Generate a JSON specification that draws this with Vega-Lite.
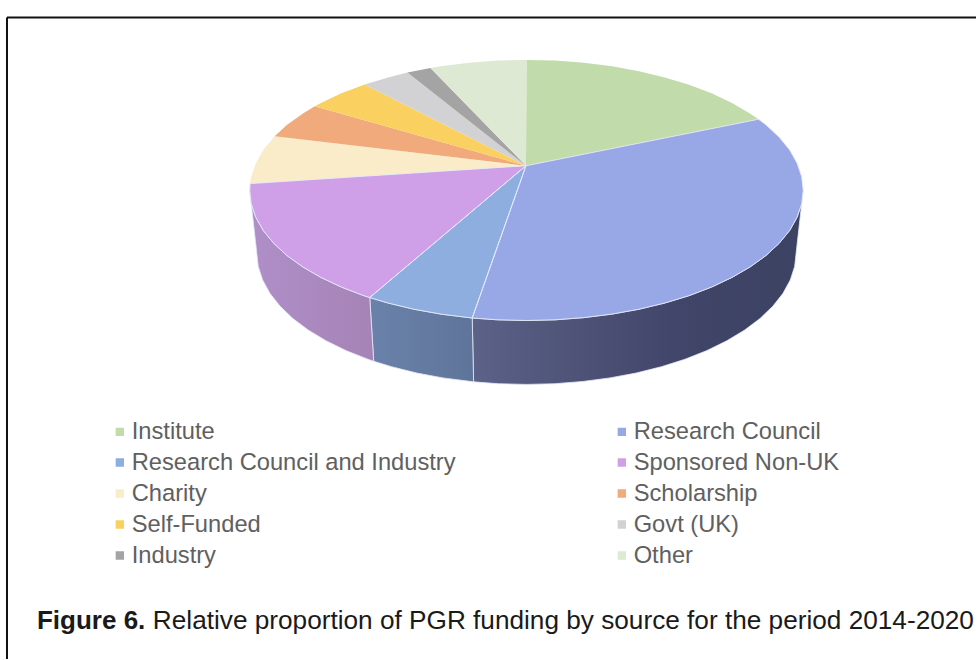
{
"$schema":"https://vega.github.io/schema/vega-lite/v6.json",
"width":977,"height":660,
"autosize":{"type":"fit","contains":"padding"},
"padding":0,
"background":"white",
"config":{"view":{"stroke":null}},
"datasets":{
"faces":[
{"source":"Institute","i":0,"x":-0.5,"y":24.5},{"source":"Institute","i":1,"x":0,"y":130.5},{"source":"Institute","i":2,"x":28.9,"y":129.8},{"source":"Institute","i":3,"x":57.6,"y":127.6},{"source":"Institute","i":4,"x":85.6,"y":124.1},{"source":"Institute","i":5,"x":112.7,"y":119.2},{"source":"Institute","i":6,"x":138.5,"y":113},{"source":"Institute","i":7,"x":162.8,"y":105.6},{"source":"Institute","i":8,"x":185.3,"y":97},{"source":"Institute","i":9,"x":205.8,"y":87.3},{"source":"Institute","i":10,"x":224.1,"y":76.7},{"source":"Institute","i":11,"x":232.3,"y":71.1},{"source":"Institute","i":12,"x":-0.5,"y":24.5},
{"source":"Research Council","i":0,"x":-0.5,"y":24.5},{"source":"Research Council","i":1,"x":232.3,"y":71.1},{"source":"Research Council","i":2,"x":239.9,"y":65.3},{"source":"Research Council","i":3,"x":253,"y":53.1},{"source":"Research Council","i":4,"x":263.5,"y":40.3},{"source":"Research Council","i":5,"x":270.9,"y":27.1},{"source":"Research Council","i":6,"x":275.5,"y":13.6},{"source":"Research Council","i":7,"x":277,"y":0},{"source":"Research Council","i":8,"x":275.5,"y":-13.6},{"source":"Research Council","i":9,"x":270.9,"y":-27.1},{"source":"Research Council","i":10,"x":263.5,"y":-40.3},{"source":"Research Council","i":11,"x":253,"y":-53.1},{"source":"Research Council","i":12,"x":239.9,"y":-65.3},{"source":"Research Council","i":13,"x":224.1,"y":-76.7},{"source":"Research Council","i":14,"x":205.8,"y":-87.3},{"source":"Research Council","i":15,"x":185.3,"y":-97},{"source":"Research Council","i":16,"x":162.8,"y":-105.6},{"source":"Research Council","i":17,"x":138.5,"y":-113},{"source":"Research Council","i":18,"x":112.7,"y":-119.2},{"source":"Research Council","i":19,"x":85.6,"y":-124.1},{"source":"Research Council","i":20,"x":57.6,"y":-127.6},{"source":"Research Council","i":21,"x":28.9,"y":-129.8},{"source":"Research Council","i":22,"x":0,"y":-130.5},{"source":"Research Council","i":23,"x":-28.9,"y":-129.8},{"source":"Research Council","i":24,"x":-54.3,"y":-128},{"source":"Research Council","i":25,"x":-0.5,"y":24.5},
{"source":"Research Council and Industry","i":0,"x":-0.5,"y":24.5},{"source":"Research Council and Industry","i":1,"x":-54.3,"y":-128},{"source":"Research Council and Industry","i":2,"x":-85.6,"y":-124.1},{"source":"Research Council and Industry","i":3,"x":-112.7,"y":-119.2},{"source":"Research Council and Industry","i":4,"x":-138.5,"y":-113},{"source":"Research Council and Industry","i":5,"x":-156.9,"y":-107.5},{"source":"Research Council and Industry","i":6,"x":-0.5,"y":24.5},
{"source":"Sponsored Non-UK","i":0,"x":-0.5,"y":24.5},{"source":"Sponsored Non-UK","i":1,"x":-156.9,"y":-107.5},{"source":"Sponsored Non-UK","i":2,"x":-162.8,"y":-105.6},{"source":"Sponsored Non-UK","i":3,"x":-185.3,"y":-97},{"source":"Sponsored Non-UK","i":4,"x":-205.8,"y":-87.3},{"source":"Sponsored Non-UK","i":5,"x":-224.1,"y":-76.7},{"source":"Sponsored Non-UK","i":6,"x":-239.9,"y":-65.3},{"source":"Sponsored Non-UK","i":7,"x":-253,"y":-53.1},{"source":"Sponsored Non-UK","i":8,"x":-263.5,"y":-40.3},{"source":"Sponsored Non-UK","i":9,"x":-270.9,"y":-27.1},{"source":"Sponsored Non-UK","i":10,"x":-275.5,"y":-13.6},{"source":"Sponsored Non-UK","i":11,"x":-277,"y":0},{"source":"Sponsored Non-UK","i":12,"x":-276.6,"y":6.6},{"source":"Sponsored Non-UK","i":13,"x":-0.5,"y":24.5},
{"source":"Charity","i":0,"x":-0.5,"y":24.5},{"source":"Charity","i":1,"x":-276.6,"y":6.6},{"source":"Charity","i":2,"x":-275.5,"y":13.6},{"source":"Charity","i":3,"x":-270.9,"y":27.1},{"source":"Charity","i":4,"x":-263.5,"y":40.3},{"source":"Charity","i":5,"x":-252.1,"y":54.1},{"source":"Charity","i":6,"x":-0.5,"y":24.5},
{"source":"Scholarship","i":0,"x":-0.5,"y":24.5},{"source":"Scholarship","i":1,"x":-252.1,"y":54.1},{"source":"Scholarship","i":2,"x":-239.9,"y":65.3},{"source":"Scholarship","i":3,"x":-224.1,"y":76.7},{"source":"Scholarship","i":4,"x":-212,"y":84},{"source":"Scholarship","i":5,"x":-0.5,"y":24.5},
{"source":"Self-Funded","i":0,"x":-0.5,"y":24.5},{"source":"Self-Funded","i":1,"x":-212,"y":84},{"source":"Self-Funded","i":2,"x":-205.8,"y":87.3},{"source":"Self-Funded","i":3,"x":-185.3,"y":97},{"source":"Self-Funded","i":4,"x":-162,"y":105.8},{"source":"Self-Funded","i":5,"x":-0.5,"y":24.5},
{"source":"Govt (UK)","i":0,"x":-0.5,"y":24.5},{"source":"Govt (UK)","i":1,"x":-162,"y":105.8},{"source":"Govt (UK)","i":2,"x":-138.5,"y":113},{"source":"Govt (UK)","i":3,"x":-119.2,"y":117.8},{"source":"Govt (UK)","i":4,"x":-0.5,"y":24.5},
{"source":"Industry","i":0,"x":-0.5,"y":24.5},{"source":"Industry","i":1,"x":-119.2,"y":117.8},{"source":"Industry","i":2,"x":-112.7,"y":119.2},{"source":"Industry","i":3,"x":-96.1,"y":122.4},{"source":"Industry","i":4,"x":-0.5,"y":24.5},
{"source":"Other","i":0,"x":-0.5,"y":24.5},{"source":"Other","i":1,"x":-96.1,"y":122.4},{"source":"Other","i":2,"x":-85.6,"y":124.1},{"source":"Other","i":3,"x":-57.6,"y":127.6},{"source":"Other","i":4,"x":-28.9,"y":129.8},{"source":"Other","i":5,"x":0,"y":130.5},{"source":"Other","i":6,"x":-0.5,"y":24.5}
],
"sideCouncil":[
{"i":0,"x":277,"y":0},{"i":1,"x":275.5,"y":-13.6},{"i":2,"x":270.9,"y":-27.1},{"i":3,"x":263.5,"y":-40.3},{"i":4,"x":253,"y":-53.1},{"i":5,"x":239.9,"y":-65.3},{"i":6,"x":224.1,"y":-76.7},{"i":7,"x":205.8,"y":-87.3},{"i":8,"x":185.3,"y":-97},{"i":9,"x":162.8,"y":-105.6},{"i":10,"x":138.5,"y":-113},{"i":11,"x":112.7,"y":-119.2},{"i":12,"x":85.6,"y":-124.1},{"i":13,"x":57.6,"y":-127.6},{"i":14,"x":28.9,"y":-129.8},{"i":15,"x":0,"y":-130.5},{"i":16,"x":-28.9,"y":-129.8},{"i":17,"x":-54.3,"y":-128},
{"i":18,"x":-52.9,"y":-191.9},{"i":19,"x":-28.2,"y":-193.8},{"i":20,"x":0,"y":-194.5},{"i":21,"x":28.2,"y":-193.8},{"i":22,"x":56.1,"y":-191.6},{"i":23,"x":83.4,"y":-188},{"i":24,"x":109.8,"y":-183.1},{"i":25,"x":135,"y":-176.8},{"i":26,"x":158.7,"y":-169.3},{"i":27,"x":180.7,"y":-160.6},{"i":28,"x":200.6,"y":-150.8},{"i":29,"x":218.4,"y":-140.1},{"i":30,"x":233.8,"y":-128.5},{"i":31,"x":246.6,"y":-116.2},{"i":32,"x":256.8,"y":-103.3},{"i":33,"x":264.1,"y":-89.9},{"i":34,"x":268.5,"y":-76.3},{"i":35,"x":270,"y":-62.5},{"i":36,"x":277,"y":0}
],
"sideIndustry":[
{"i":0,"x":-54.3,"y":-128},{"i":1,"x":-85.6,"y":-124.1},{"i":2,"x":-112.7,"y":-119.2},{"i":3,"x":-138.5,"y":-113},{"i":4,"x":-156.9,"y":-107.5},
{"i":5,"x":-152.9,"y":-171.3},{"i":6,"x":-135,"y":-176.8},{"i":7,"x":-109.8,"y":-183.1},{"i":8,"x":-83.4,"y":-188},{"i":9,"x":-52.9,"y":-191.9},{"i":10,"x":-54.3,"y":-128}
],
"sideSponsored":[
{"i":0,"x":-156.9,"y":-107.5},{"i":1,"x":-162.8,"y":-105.6},{"i":2,"x":-185.3,"y":-97},{"i":3,"x":-205.8,"y":-87.3},{"i":4,"x":-224.1,"y":-76.7},{"i":5,"x":-239.9,"y":-65.3},{"i":6,"x":-253,"y":-53.1},{"i":7,"x":-263.5,"y":-40.3},{"i":8,"x":-270.9,"y":-27.1},{"i":9,"x":-275.5,"y":-13.6},{"i":10,"x":-277,"y":0},
{"i":11,"x":-270,"y":-62.5},{"i":12,"x":-268.5,"y":-76.3},{"i":13,"x":-264.1,"y":-89.9},{"i":14,"x":-256.8,"y":-103.3},{"i":15,"x":-246.6,"y":-116.2},{"i":16,"x":-233.8,"y":-128.5},{"i":17,"x":-218.4,"y":-140.1},{"i":18,"x":-200.6,"y":-150.8},{"i":19,"x":-180.7,"y":-160.6},{"i":20,"x":-158.7,"y":-169.3},{"i":21,"x":-152.9,"y":-171.3},{"i":22,"x":-156.9,"y":-107.5}
]
},
"encoding":{
"x":{"field":"x","type":"quantitative","scale":{"domain":[-527,450],"nice":false,"zero":false},"axis":null},
"y":{"field":"y","type":"quantitative","scale":{"domain":[-469.5,190.5],"nice":false,"zero":false},"axis":null}
},
"layer":[
{"data":{"values":[{"x":-520,"x2":450,"y":173}]},"mark":{"type":"rule","stroke":"#111111","strokeWidth":2},"encoding":{"x2":{"field":"x2"}}},
{"data":{"values":[{"x":-520,"y":173,"y2":-469.5}]},"mark":{"type":"rule","stroke":"#111111","strokeWidth":2},"encoding":{"y2":{"field":"y2"}}},
{"data":{"name":"sideCouncil"},
 "mark":{"type":"line","stroke":"#e4e8f8","strokeWidth":0.8,"fill":{"gradient":"linear","x1":0,"x2":1,"y1":0,"y2":0,"stops":[{"offset":0,"color":"#5c6288"},{"offset":0.35,"color":"#4c5175"},{"offset":0.6,"color":"#41466a"},{"offset":1,"color":"#3c4262"}]}},
 "encoding":{"order":{"field":"i","type":"quantitative"}}},
{"data":{"name":"sideIndustry"},
 "mark":{"type":"line","stroke":"#e4e8f8","strokeWidth":0.8,"fill":{"gradient":"linear","x1":0,"x2":1,"y1":0,"y2":0,"stops":[{"offset":0,"color":"#6a82aa"},{"offset":1,"color":"#5f7499"}]}},
 "encoding":{"order":{"field":"i","type":"quantitative"}}},
{"data":{"name":"sideSponsored"},
 "mark":{"type":"line","stroke":"#e4e8f8","strokeWidth":0.8,"fill":{"gradient":"linear","x1":0,"x2":1,"y1":0,"y2":0,"stops":[{"offset":0,"color":"#b08fc9"},{"offset":1,"color":"#a583b6"}]}},
 "encoding":{"order":{"field":"i","type":"quantitative"}}},
{"data":{"name":"faces"},
 "mark":{"type":"line","strokeWidth":0},
 "encoding":{
  "order":{"field":"i","type":"quantitative"},
  "fill":{"field":"source","type":"nominal",
   "scale":{"domain":["Institute","Research Council","Research Council and Industry","Sponsored Non-UK","Charity","Scholarship","Self-Funded","Govt (UK)","Industry","Other"],
            "range":["#c2dbaa","#98a8e6","#8eaee0","#cfa0e8","#faecc8","#f0aa7c","#fad060","#d2d2d4","#a4a4a4","#dde9d2"]},
   "legend":{"title":null,"orient":"none","legendX":108,"legendY":420,"direction":"horizontal","columns":2,"gridAlign":"each","columnPadding":154,"rowPadding":6,"symbolType":"square","symbolSize":70,"symbolStrokeWidth":0,"labelFont":"Liberation Sans","labelFontSize":23.7,"labelColor":"#606060","labelOffset":0,"labelLimit":400,"clipHeight":23}
  }
 }},
{"data":{"name":"faces"},
 "transform":[{"filter":"datum.source==='Research Council'||datum.source==='Research Council and Industry'||datum.source==='Sponsored Non-UK'"}],
 "mark":{"type":"line","stroke":"#e4e8f8","strokeWidth":0.9},
 "encoding":{"order":{"field":"i","type":"quantitative"},"detail":{"field":"source"}}},
{"data":{"values":[{"x":-490,"y":-439.5,"label":"Figure 6."}]},
 "mark":{"type":"text","align":"left","baseline":"alphabetic","font":"Liberation Sans","fontWeight":"bold","fontSize":26,"fill":"#1a1a1a"},
 "encoding":{"text":{"field":"label"}}},
{"data":{"values":[{"x":-374,"y":-439.5,"label":"Relative proportion of PGR funding by source for the period 2014-2020"}]},
 "mark":{"type":"text","align":"left","baseline":"alphabetic","font":"Liberation Sans","fontSize":26.2,"fill":"#1a1a1a"},
 "encoding":{"text":{"field":"label"}}}
]
}
